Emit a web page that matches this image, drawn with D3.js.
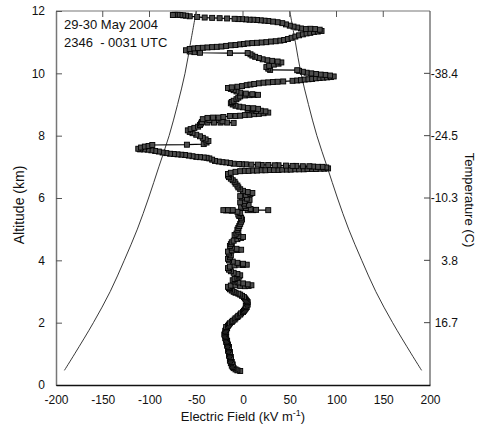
<!DOCTYPE html>
<html>
<head>
<meta charset="utf-8">
<script src="https://cdn.jsdelivr.net/npm/d3@7"></script>
<style>
  html, body { margin: 0; padding: 0; background: #fff; }
  svg { display: block; }
  text { font-family: "Liberation Sans", Arial, sans-serif; fill: #111; }
</style>
</head>
<body>
<svg id="chart" width="477" height="430"></svg>
<script>
// Balloon sounding: electric field (kV/m) against altitude (km)
const profile = [
  [-3,0.45],[-6,0.47],[-8,0.5],[-10,0.54],[-11,0.58],[-12,0.62],[-11,0.66],[-13,0.7],[-12,0.74],[-14,0.78],
  [-13,0.82],[-14,0.86],[-13,0.9],[-15,0.94],[-14,0.98],[-15,1.02],[-14,1.06],[-16,1.1],[-15,1.14],[-16,1.18],
  [-15,1.22],[-17,1.26],[-16,1.3],[-17,1.34],[-18,1.38],[-17,1.42],[-18,1.46],[-19,1.5],[-18,1.54],[-19,1.58],
  [-20,1.62],[-19,1.66],[-18,1.7],[-19,1.74],[-18,1.78],[-17,1.82],[-18,1.86],[-16,1.9],[-15,1.94],[-14,1.98],
  [-12,2.02],[-11,2.06],[-9,2.1],[-8,2.14],[-6,2.18],[-5,2.22],[-3,2.26],[-2,2.3],[0,2.34],[1,2.38],
  [2,2.42],[3,2.46],[4,2.5],[3,2.54],[5,2.58],[4,2.62],[5,2.66],[4,2.7],[3,2.74],[2,2.78],
  [1,2.82],[-1,2.86],[-3,2.9],[-5,2.93],[-8,2.96],[-10,2.99],[-12,3.03],[-14,3.07],[-15,3.11],[-16,3.15],
  [-13,3.19],[-8,3.2],[-3,3.18],[2,3.17],[6,3.18],[9,3.2],[5,3.23],[0,3.26],[-5,3.29],[-9,3.32],
  [-11,3.36],[-9,3.4],[-6,3.44],[-4,3.48],[-3,3.52],[-6,3.56],[-10,3.6],[-13,3.65],[-15,3.7],[-16,3.75],
  [-14,3.8],[-9,3.84],[-4,3.86],[0,3.85],[4,3.86],[0,3.89],[-6,3.92],[-11,3.96],[-15,4.0],[-16,4.05],
  [-14,4.1],[-13,4.16],[-15,4.22],[-16,4.28],[-12,4.32],[-6,4.33],[-2,4.34],[-7,4.37],[-12,4.41],[-14,4.46],
  [-13,4.52],[-12,4.58],[-10,4.63],[-6,4.68],[-2,4.72],[0,4.75],[-5,4.78],[-9,4.81],[-7,4.86],[-5,4.92],
  [-6,4.98],[-5,5.04],[-4,5.1],[-3,5.17],[-2,5.24],[-1,5.31],[-2,5.37],[-4,5.42],[-5,5.47],[-3,5.52],
  [-6,5.56],[-12,5.59],[-18,5.6],[-21,5.61],[-16,5.61],[-11,5.61],[5,5.61],[11,5.61],[27,5.61],[14,5.62],
  [8,5.65],[3,5.68],[-2,5.72],[2,5.75],[6,5.78],[1,5.82],[-3,5.86],[2,5.9],[7,5.94],[4,5.98],
  [-1,6.02],[-3,6.06],[3,6.1],[8,6.13],[10,6.16],[5,6.19],[0,6.23],[-3,6.28],[-5,6.34],[-6,6.4],
  [-8,6.46],[-9,6.52],[-11,6.57],[-13,6.62],[-15,6.67],[-16,6.72],[-16,6.77],[-13,6.81],[-8,6.84],[-3,6.86],
  [2,6.87],[6,6.87],[11,6.88],[15,6.88],[20,6.89],[24,6.89],[29,6.9],[33,6.9],[38,6.9],[42,6.91],
  [47,6.91],[51,6.91],[56,6.92],[60,6.92],[65,6.92],[69,6.93],[74,6.93],[78,6.93],[83,6.94],[87,6.94],
  [91,6.95],[89,6.98],[85,7.0],[80,7.0],[75,7.01],[71,7.02],[64,7.02],[57,7.03],[53,7.03],[46,7.04],
  [38,7.05],[34,7.05],[27,7.06],[20,7.06],[16,7.07],[9,7.07],[3,7.08],[-1,7.08],[-4,7.09],[-10,7.1],
  [-14,7.12],[-18,7.14],[-22,7.15],[-26,7.17],[-30,7.19],[-33,7.23],[-36,7.27],[-39,7.29],[-42,7.3],[-46,7.31],
  [-50,7.32],[-54,7.34],[-58,7.36],[-62,7.38],[-66,7.39],[-70,7.4],[-74,7.41],[-78,7.42],[-82,7.44],[-86,7.46],
  [-90,7.49],[-94,7.51],[-98,7.53],[-102,7.55],[-106,7.56],[-110,7.56],[-112,7.58],[-109,7.62],[-105,7.65],[-101,7.67],
  [-97,7.7],[-60,7.71],[-42,7.73],[-39,7.78],[-37,7.83],[-40,7.88],[-43,7.93],[-46,7.98],[-50,8.03],[-54,8.08],
  [-57,8.12],[-59,8.17],[-56,8.21],[-52,8.25],[-48,8.29],[-46,8.34],[-45,8.39],[-44,8.44],[-38,8.42],[-31,8.42],
  [-24,8.42],[-17,8.42],[-10,8.41],[-22,8.46],[-36,8.5],[-43,8.53],[-38,8.57],[-32,8.58],[-26,8.58],[-21,8.6],
  [-14,8.63],[-8,8.63],[-3,8.64],[2,8.66],[7,8.67],[12,8.69],[17,8.7],[22,8.72],[27,8.74],[24,8.78],
  [19,8.8],[14,8.79],[9,8.81],[5,8.83],[10,8.85],[16,8.86],[11,8.88],[5,8.89],[0,8.91],[-4,8.93],
  [-8,8.96],[-11,9.0],[-13,9.04],[-12,9.08],[-10,9.12],[-7,9.17],[-5,9.22],[-3,9.26],[2,9.29],[7,9.3],
  [12,9.31],[16,9.31],[10,9.33],[3,9.35],[-3,9.38],[-7,9.42],[-10,9.46],[-13,9.5],[-16,9.53],[-12,9.55],
  [-6,9.57],[-1,9.59],[4,9.62],[8,9.64],[12,9.66],[17,9.68],[22,9.7],[27,9.71],[32,9.72],[37,9.73],
  [43,9.74],[53,9.76],[58,9.77],[62,9.78],[66,9.8],[70,9.81],[74,9.82],[78,9.84],[82,9.85],[86,9.86],
  [90,9.87],[94,9.88],[97,9.9],[93,9.93],[88,9.95],[83,9.96],[78,9.98],[73,10.0],[68,10.02],[64,10.05],
  [60,10.08],[58,10.1],[29,10.11],[27,10.15],[25,10.2],[28,10.24],[33,10.28],[38,10.31],[41,10.35],[37,10.38],
  [31,10.4],[26,10.42],[21,10.45],[17,10.49],[13,10.53],[10,10.57],[8,10.61],[5,10.65],[-14,10.65],[-46,10.66],
  [-52,10.68],[-57,10.7],[-61,10.74],[-57,10.78],[-52,10.8],[-48,10.81],[-43,10.82],[-38,10.83],[-33,10.84],[-28,10.85],
  [-23,10.86],[-18,10.88],[-13,10.9],[-8,10.91],[-3,10.93],[1,10.94],[5,10.96],[10,10.97],[15,10.98],[20,10.99],
  [25,11.0],[30,11.02],[35,11.03],[40,11.05],[44,11.07],[48,11.1],[52,11.14],[56,11.18],[60,11.22],[64,11.25],
  [68,11.28],[72,11.3],[76,11.33],[80,11.34],[84,11.36],[82,11.4],[77,11.42],[72,11.43],[67,11.42],[62,11.44],
  [58,11.47],[54,11.5],[50,11.53],[46,11.57],[42,11.61],[37,11.64],[32,11.66],[27,11.68],[23,11.69],[19,11.7],
  [15,11.71],[11,11.72],[7,11.72],[3,11.73],[-1,11.74],[-5,11.74],[-9,11.75],[-17,11.76],[-25,11.77],[-33,11.78],
  [-41,11.79],[-49,11.81],[-57,11.83],[-61,11.85],[-64,11.86],[-67,11.87],[-70,11.88],[-73,11.88],[-75,11.87]
];

// Envelope curves (±) drawn on both sides of zero
const envelopeAlt = [0.47, 1, 2, 3, 4, 5, 6, 7, 8, 9, 10, 11, 12];
const envelopeField = [191, 180, 160, 142, 127, 113, 101, 90, 79, 70, 62, 56, 50];

// Axis ticks
const fieldTicks = [-200, -150, -100, -50, 0, 50, 100, 150, 200];
const topTicks = [-150, -100, -50, 0, 50, 100, 150];
const altTicks = [0, 2, 4, 6, 8, 10, 12];
const tempTickAlt = [2, 4, 6, 8, 10];
const tempTickLabels = ["16.7", "3.8", "-10.3", "-24.5", "-38.4"];

const plotLeft = 56, plotTop = 11, plotRight = 430, plotBottom = 385;
const svg = d3.select("#chart");
const x = d3.scaleLinear().domain([-200, 200]).range([plotLeft, plotRight]);
const y = d3.scaleLinear().domain([0, 12]).range([plotBottom, plotTop]);
const plain = d => String(d);

// envelopes
const envLine = d3.line()
  .x(d => x(d[0]))
  .y(d => y(d[1]))
  .curve(d3.curveCatmullRom);
[-1, 1].forEach(sign => {
  const pts = envelopeAlt.map((a, i) => [sign * envelopeField[i], a]);
  svg.append("path")
    .attr("d", envLine(pts))
    .attr("fill", "none")
    .attr("stroke", "#222")
    .attr("stroke-width", 0.9);
});

// profile trace
const traceLine = d3.line().x(d => x(d[0])).y(d => y(d[1]));
svg.append("path")
  .attr("d", traceLine(profile))
  .attr("fill", "none")
  .attr("stroke", "#000")
  .attr("stroke-width", 1.2);

const ms = 5;
svg.append("g").selectAll("rect")
  .data(profile)
  .join("rect")
  .attr("x", d => x(d[0]) - ms / 2)
  .attr("y", d => y(d[1]) - ms / 2)
  .attr("width", ms)
  .attr("height", ms)
  .attr("fill", "#4d4d4d")
  .attr("stroke", "#000")
  .attr("stroke-width", 0.9);

// frame
svg.append("line").attr("x1", plotLeft).attr("x2", plotRight).attr("y1", plotTop).attr("y2", plotTop)
  .attr("stroke", "#777").attr("stroke-width", 1.2);
svg.append("line").attr("x1", plotRight).attr("x2", plotRight).attr("y1", plotTop).attr("y2", plotBottom)
  .attr("stroke", "#555").attr("stroke-width", 1.2);

// left axis
const yAxis = svg.append("g")
  .attr("transform", `translate(${plotLeft},0)`)
  .call(d3.axisLeft(y).tickValues(altTicks).tickFormat(plain)
    .tickSizeInner(-6).tickSizeOuter(0).tickPadding(11));
yAxis.select(".domain").attr("stroke", "#777").attr("stroke-width", 1.5);
yAxis.selectAll(".tick line").attr("stroke", "#555");
yAxis.selectAll("text").style("font-size", "12px").attr("fill", "#111");

// bottom axis
const xAxis = svg.append("g")
  .attr("transform", `translate(0,${plotBottom})`)
  .call(d3.axisBottom(x).tickValues(fieldTicks).tickFormat(plain)
    .tickSizeInner(0).tickSizeOuter(0).tickPadding(10));
xAxis.select(".domain").attr("stroke", "#111").attr("stroke-width", 1.5);
xAxis.selectAll("text").style("font-size", "12px").attr("fill", "#111");

// top ticks
svg.append("g").selectAll("line")
  .data(topTicks)
  .join("line")
  .attr("x1", d => x(d)).attr("x2", d => x(d))
  .attr("y1", plotTop).attr("y2", plotTop + 6)
  .attr("stroke", "#555");

// right temperature axis
svg.append("g").selectAll("line")
  .data(tempTickAlt)
  .join("line")
  .attr("x1", plotRight - 6).attr("x2", plotRight)
  .attr("y1", d => y(d)).attr("y2", d => y(d))
  .attr("stroke", "#444");
svg.append("g").selectAll("text")
  .data(tempTickAlt)
  .join("text")
  .attr("x", 458)
  .attr("y", d => y(d))
  .attr("dy", "0.35em")
  .attr("text-anchor", "end")
  .style("font-size", "12px")
  .text((d, i) => tempTickLabels[i]);

// axis titles
svg.append("text")
  .attr("transform", "translate(24,205) rotate(-90)")
  .attr("text-anchor", "middle")
  .style("font-size", "14px")
  .text("Altitude (km)");

svg.append("text")
  .attr("transform", "translate(465,200) rotate(90)")
  .attr("text-anchor", "middle")
  .style("font-size", "13px")
  .text("Temperature (C)");

const xt = svg.append("text")
  .attr("x", 243).attr("y", 421)
  .attr("text-anchor", "middle")
  .style("font-size", "13px");
xt.append("tspan").text("Electric Field (kV m");
xt.append("tspan").attr("dy", -5).style("font-size", "9px").text("-1");
xt.append("tspan").attr("dy", 5).text(")");

// annotation
svg.append("text").attr("x", 64).attr("y", 29).style("font-size", "13px")
  .text("29-30 May 2004");
svg.append("text").attr("x", 64).attr("y", 47).style("font-size", "13px")
  .style("white-space", "pre")
  .text("2346  - 0031 UTC");
</script>
</body>
</html>
